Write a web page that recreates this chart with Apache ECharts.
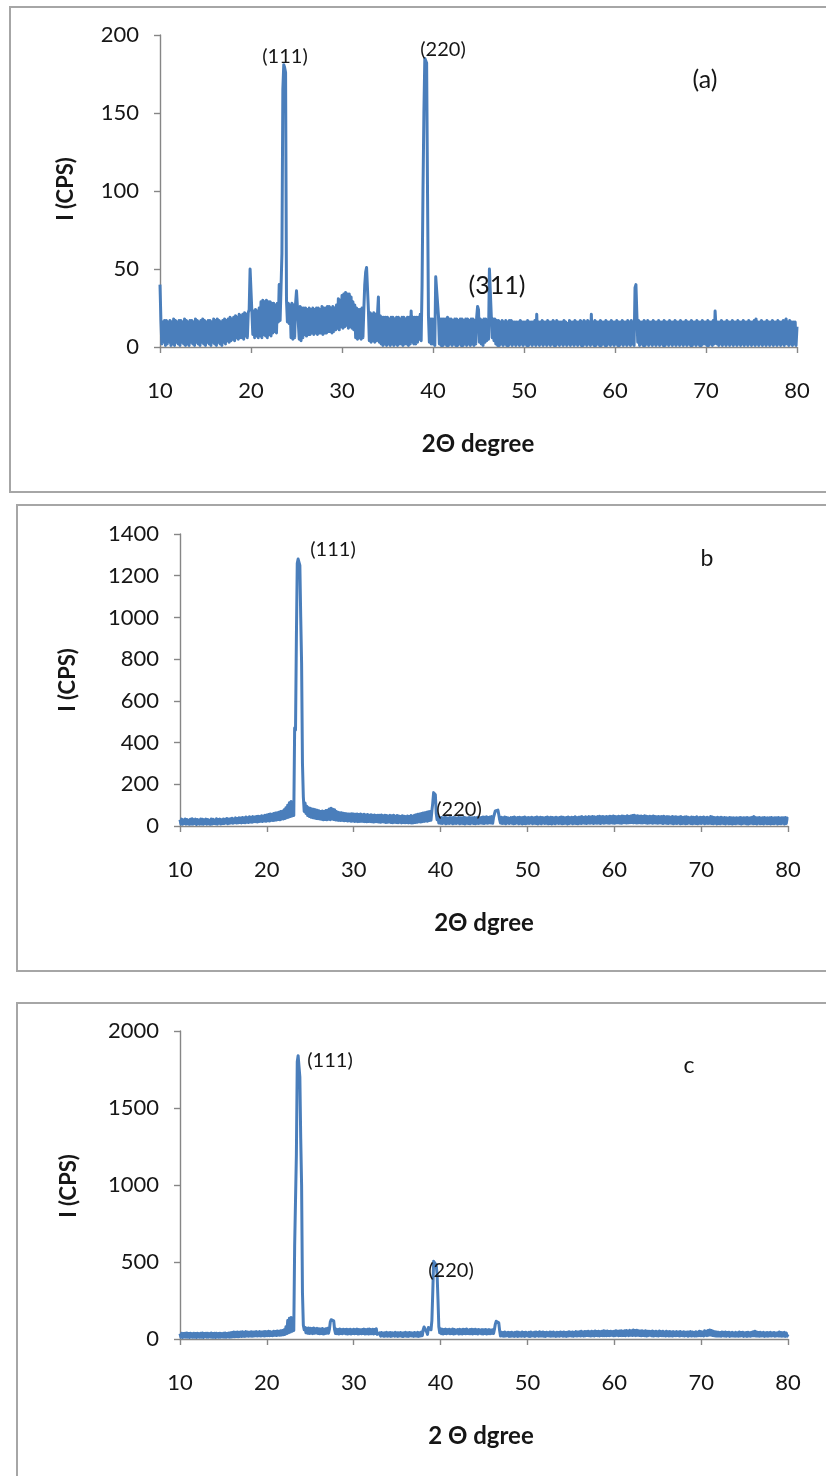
<!DOCTYPE html>
<html>
<head>
<meta charset="utf-8">
<title>XRD patterns</title>
<script src="https://cdn.jsdelivr.net/npm/echarts@6/dist/echarts.min.js"></script>
<style>
  html, body { margin: 0; padding: 0; background: #ffffff; }
  #chart { width: 826px; height: 1476px; }
</style>
</head>
<body>
<div id="chart"></div>
<script>
// Scan grid: 2θ from 10° to 80° in 0.1° steps (701 samples per pattern)
const scanStart = 10;
const scanStep = 0.1;

// Pattern (a) intensities (CPS), one row per degree
const intensityA = [
  40, 17, 2, 16, 3, 17, 1, 17, 2, 16,
  3, 17, 1, 16, 2, 18, 1, 17, 3, 16,
  2, 17, 1, 17, 3, 16, 2, 18, 1, 17,
  2, 16, 1, 17, 3, 17, 2, 16, 1, 18,
  3, 17, 2, 16, 1, 17, 3, 18, 2, 17,
  1, 16, 3, 17, 2, 17, 1, 16, 3, 18,
  2, 17, 1, 18, 3, 17, 2, 16, 1, 17,
  3, 18, 2, 17, 4, 18, 3, 19, 4, 18,
  5, 19, 4, 20, 6, 19, 5, 21, 6, 20,
  6, 21, 5, 22, 7, 21, 6, 22, 24, 50,
  51, 49, 8, 23, 6, 24, 7, 23, 6, 25,
  7, 29, 6, 30, 8, 29, 7, 30, 6, 29,
  8, 29, 7, 28, 9, 28, 10, 27, 9, 28,
  16, 40, 17, 38, 60, 165, 181, 179, 176, 30,
  16, 28, 15, 27, 6, 28, 5, 27, 6, 28,
  36, 37, 35, 5, 26, 4, 25, 6, 25, 8,
  25, 7, 24, 8, 25, 8, 24, 9, 25, 8,
  24, 9, 25, 8, 25, 9, 24, 9, 26, 8,
  25, 9, 25, 9, 26, 10, 26, 10, 25, 9,
  26, 10, 25, 11, 27, 12, 31, 11, 30, 13,
  33, 12, 34, 13, 35, 14, 34, 12, 34, 13,
  32, 12, 29, 11, 27, 6, 25, 5, 24, 6,
  24, 5, 25, 6, 24, 40, 48, 51, 50, 24,
  4, 22, 3, 21, 4, 22, 3, 21, 4, 21,
  32, 3, 20, 2, 19, 1, 19, 2, 19, 1,
  19, 2, 18, 1, 19, 2, 19, 1, 18, 2,
  19, 1, 19, 2, 18, 2, 19, 1, 19, 2,
  18, 2, 19, 1, 19, 2, 23, 3, 19, 2,
  19, 2, 19, 3, 19, 5, 21, 4, 40, 100,
  150, 185, 184, 182, 98, 20, 3, 18, 2, 18,
  2, 18, 1, 45, 44, 45, 20, 2, 18, 1,
  18, 1, 18, 2, 18, 1, 19, 1, 18, 2,
  18, 1, 17, 2, 18, 1, 18, 1, 17, 2,
  18, 1, 18, 1, 17, 2, 18, 1, 18, 2,
  17, 1, 18, 2, 18, 1, 17, 2, 19, 26,
  24, 3, 18, 2, 17, 1, 18, 3, 18, 4,
  17, 5, 50, 51, 50, 6, 18, 4, 18, 2,
  17, 1, 17, 1, 16, 2, 17, 1, 16, 2,
  17, 1, 16, 1, 17, 2, 17, 1, 16, 2,
  16, 1, 16, 2, 16, 1, 17, 2, 16, 1,
  16, 2, 16, 1, 17, 1, 16, 2, 16, 1,
  16, 2, 17, 1, 21, 2, 16, 1, 16, 2,
  17, 1, 16, 2, 16, 1, 17, 2, 16, 1,
  16, 2, 17, 1, 16, 1, 17, 2, 16, 1,
  16, 2, 16, 1, 17, 2, 16, 1, 15, 2,
  17, 1, 16, 2, 16, 1, 17, 2, 16, 1,
  16, 2, 17, 1, 16, 1, 17, 2, 16, 1,
  17, 2, 16, 1, 21, 2, 16, 1, 17, 1,
  16, 2, 16, 1, 17, 1, 16, 2, 16, 1,
  17, 1, 16, 2, 16, 1, 17, 2, 16, 1,
  16, 2, 17, 1, 16, 1, 16, 2, 17, 1,
  16, 2, 16, 1, 17, 2, 16, 1, 17, 2,
  16, 1, 38, 40, 39, 3, 17, 1, 16, 2,
  16, 1, 17, 1, 16, 2, 17, 1, 16, 2,
  16, 1, 17, 2, 16, 1, 16, 2, 17, 1,
  16, 2, 16, 1, 17, 1, 16, 2, 16, 1,
  17, 2, 16, 1, 16, 2, 17, 1, 16, 2,
  16, 1, 17, 2, 16, 1, 16, 2, 17, 1,
  16, 2, 16, 1, 17, 1, 16, 2, 16, 1,
  17, 2, 16, 1, 16, 1, 17, 2, 16, 2,
  16, 1, 17, 1, 16, 2, 16, 1, 17, 2,
  23, 22, 2, 16, 1, 16, 2, 17, 1, 16,
  2, 16, 1, 17, 2, 16, 1, 16, 2, 17,
  1, 16, 2, 16, 1, 17, 2, 16, 1, 16,
  2, 17, 1, 16, 2, 16, 1, 17, 2, 16,
  1, 16, 2, 17, 1, 18, 2, 16, 1, 16,
  2, 17, 1, 16, 2, 16, 1, 17, 2, 16,
  1, 16, 2, 17, 1, 16, 2, 16, 1, 17,
  2, 16, 1, 16, 2, 17, 1, 16, 18, 2,
  16, 1, 17, 2, 16, 1, 16, 2, 16, 1,
  13
];

// Pattern (b) intensities (CPS)
const intensityB = [
  30, 10, 33, 8, 29, 12, 34, 9, 31, 11,
  28, 8, 32, 10, 35, 9, 30, 12, 33, 7,
  31, 11, 29, 9, 34, 10, 32, 8, 30, 12,
  33, 9, 31, 11, 28, 8, 34, 10, 32, 12,
  29, 11, 35, 9, 31, 13, 33, 10, 30, 12,
  34, 12, 32, 14, 36, 11, 33, 13, 35, 15,
  37, 13, 34, 16, 39, 14, 36, 15, 40, 17,
  38, 15, 41, 17, 39, 16, 43, 18, 40, 17,
  44, 19, 42, 18, 45, 20, 43, 21, 46, 19,
  47, 21, 45, 23, 49, 22, 48, 24, 51, 23,
  53, 25, 55, 24, 57, 27, 56, 26, 60, 28,
  62, 29, 64, 31, 66, 30, 69, 33, 71, 34,
  78, 36, 88, 40, 100, 42, 112, 45, 118, 48,
  110, 50, 470, 460, 900, 1260, 1280, 1275, 1250, 1000,
  780, 300, 140, 70, 110, 60, 95, 50, 88, 45,
  85, 42, 82, 40, 80, 38, 78, 36, 75, 35,
  73, 34, 70, 32, 72, 30, 70, 31, 74, 30,
  76, 32, 82, 30, 85, 33, 80, 31, 78, 29,
  70, 28, 66, 27, 64, 26, 63, 27, 61, 25,
  60, 26, 59, 24, 58, 25, 57, 23, 59, 24,
  57, 22, 56, 23, 58, 21, 55, 22, 57, 23,
  54, 22, 56, 21, 53, 20, 55, 22, 52, 21,
  54, 20, 51, 19, 53, 21, 50, 20, 52, 19,
  51, 18, 53, 20, 49, 19, 52, 17, 50, 18,
  48, 19, 51, 17, 49, 16, 52, 18, 47, 17,
  50, 16, 48, 18, 46, 15, 49, 17, 47, 16,
  45, 17, 48, 15, 46, 16, 50, 14, 47, 16,
  52, 17, 54, 18, 56, 20, 58, 19, 60, 21,
  62, 22, 64, 24, 66, 23, 68, 26, 70, 28,
  72, 110, 160, 165, 150, 60, 30, 42, 14, 40,
  13, 41, 12, 39, 14, 42, 11, 40, 13, 38,
  12, 41, 14, 39, 11, 42, 13, 40, 12, 38,
  14, 41, 11, 40, 13, 39, 12, 42, 10, 40,
  13, 38, 12, 41, 11, 40, 14, 39, 12, 41,
  11, 40, 13, 42, 12, 39, 14, 41, 13, 43,
  12, 42, 14, 44, 13, 41, 15, 43, 14, 45,
  13, 42, 50, 72, 80, 78, 76, 55, 30, 14,
  42, 12, 40, 13, 43, 11, 41, 14, 39, 12,
  10, 40, 13, 41, 11, 43, 12, 39, 14, 41,
  11, 42, 13, 40, 10, 41, 12, 43, 11, 39,
  13, 41, 12, 40, 14, 42, 11, 39, 13, 41,
  12, 43, 10, 40, 13, 42, 11, 41, 14, 39,
  12, 41, 13, 43, 11, 40, 12, 42, 10, 41,
  13, 40, 11, 42, 14, 39, 12, 41, 13, 43,
  11, 42, 12, 40, 13, 41, 10, 43, 12, 40,
  14, 42, 11, 41, 13, 44, 12, 40, 11, 42,
  13, 43, 12, 45, 14, 41, 13, 44, 12, 42,
  14, 45, 13, 43, 15, 46, 12, 44, 14, 42,
  13, 45, 14, 47, 12, 44, 15, 46, 13, 43,
  15, 46, 14, 44, 13, 47, 15, 45, 14, 48,
  13, 46, 15, 44, 16, 47, 14, 45, 13, 48,
  15, 47, 16, 45, 14, 49, 15, 46, 16, 48,
  17, 50, 15, 52, 16, 48, 14, 49, 16, 47,
  15, 48, 14, 46, 16, 49, 15, 47, 13, 45,
  14, 47, 16, 45, 13, 48, 15, 46, 14, 44,
  13, 46, 15, 44, 14, 45, 12, 47, 14, 43,
  13, 45, 12, 44, 14, 42, 13, 46, 11, 43,
  13, 44, 12, 42, 14, 43, 11, 45, 12, 41,
  13, 43, 11, 44, 12, 42, 14, 40, 12, 43,
  11, 42, 13, 41, 12, 44, 11, 40, 13, 42,
  12, 41, 14, 43, 11, 40, 13, 42, 12, 39,
  13, 46, 12, 43, 11, 41, 13, 40, 10, 42,
  12, 40, 11, 42, 13, 39, 12, 41, 10, 40,
  13, 38, 11, 41, 12, 39, 10, 40, 12, 38,
  11, 40, 13, 38, 12, 41, 10, 39, 12, 40,
  13, 39, 11, 41, 10, 38, 12, 40, 13, 42,
  11, 45, 12, 40, 10, 39, 13, 41, 11, 38,
  12, 40, 10, 41, 13, 38, 11, 39, 12, 40,
  10, 41, 12, 38, 11, 40, 13, 39, 10, 41,
  12, 38, 11, 40, 13, 39, 10, 41, 12, 38,
  36
];

// Pattern (c) intensities (CPS)
const intensityC = [
  35, 12, 38, 10, 36, 13, 37, 11, 39, 12,
  36, 10, 38, 13, 35, 11, 37, 12, 36, 10,
  38, 13, 35, 11, 37, 12, 39, 10, 36, 14,
  37, 11, 38, 12, 35, 13, 39, 11, 36, 12,
  38, 10, 37, 13, 36, 11, 38, 12, 35, 13,
  37, 12, 39, 11, 36, 14, 38, 12, 40, 13,
  42, 15, 45, 14, 43, 16, 46, 15, 44, 17,
  45, 16, 47, 18, 44, 17, 48, 19, 46, 18,
  44, 20, 47, 18, 46, 19, 45, 21, 48, 20,
  46, 21, 48, 19, 45, 22, 47, 20, 49, 21,
  47, 22, 50, 21, 48, 23, 46, 22, 51, 24,
  49, 23, 52, 25, 50, 24, 53, 26, 55, 27,
  60, 30, 80, 35, 120, 40, 135, 45, 140, 50,
  138, 55, 600, 590, 1200, 1800, 1840, 1835, 1700, 1300,
  1000, 300, 90, 60, 75, 40, 70, 38, 72, 36,
  70, 38, 68, 35, 72, 37, 66, 39, 69, 36,
  67, 34, 65, 36, 68, 33, 64, 35, 66, 37,
  70, 38, 62, 110, 125, 128, 122, 118, 60, 36,
  64, 35, 62, 33, 65, 36, 61, 34, 63, 37,
  62, 34, 64, 32, 61, 35, 63, 33, 60, 36,
  63, 34, 61, 36, 64, 33, 62, 35, 60, 34,
  62, 36, 64, 33, 61, 35, 63, 32, 65, 34,
  61, 35, 64, 33, 62, 36, 66, 30, 42, 20,
  40, 18, 42, 20, 39, 17, 41, 19, 43, 18,
  40, 19, 42, 17, 41, 20, 39, 18, 43, 19,
  41, 17, 40, 20, 42, 18, 39, 16, 41, 19,
  43, 18, 40, 17, 42, 20, 41, 19, 39, 17,
  42, 19, 40, 18, 43, 17, 41, 20, 45, 22,
  60, 78, 82, 80, 45, 30, 75, 82, 70, 60,
  120, 300, 505, 510, 505, 480, 420, 260, 80, 40,
  66, 35, 63, 33, 62, 36, 64, 34, 61, 37,
  63, 34, 60, 36, 65, 33, 62, 35, 59, 37,
  61, 32, 64, 35, 60, 33, 63, 36, 62, 34,
  65, 36, 59, 34, 62, 35, 64, 33, 61, 36,
  63, 35, 60, 32, 62, 37, 58, 34, 61, 33,
  60, 36, 62, 33, 59, 35, 61, 34, 58, 36,
  60, 36, 62, 95, 115, 125, 120, 105, 55, 20,
  44, 20, 42, 18, 45, 19, 41, 21, 43, 17,
  42, 18, 44, 20, 40, 17, 43, 19, 45, 16,
  44, 20, 41, 18, 46, 19, 42, 17, 44, 21,
  40, 18, 43, 16, 45, 20, 41, 19, 44, 17,
  46, 21, 42, 18, 47, 19, 43, 20, 45, 18,
  42, 17, 44, 21, 41, 19, 46, 18, 43, 20,
  45, 19, 41, 17, 44, 20, 42, 18, 46, 21,
  43, 18, 45, 20, 42, 17, 44, 19, 47, 21,
  44, 20, 46, 18, 43, 21, 48, 19, 45, 22,
  47, 20, 50, 22, 46, 19, 49, 21, 48, 23,
  50, 21, 47, 19, 51, 22, 48, 20, 52, 23,
  49, 22, 51, 20, 48, 23, 50, 21, 53, 22,
  50, 21, 52, 23, 49, 22, 51, 24, 48, 21,
  51, 22, 53, 24, 50, 21, 52, 23, 54, 22,
  50, 23, 53, 21, 55, 24, 52, 22, 56, 25,
  54, 23, 58, 25, 55, 22, 57, 24, 53, 23,
  52, 21, 54, 23, 51, 22, 53, 20, 50, 22,
  51, 24, 49, 21, 52, 20, 48, 22, 50, 21,
  47, 20, 52, 23, 48, 21, 50, 22, 46, 20,
  50, 22, 47, 19, 49, 21, 46, 20, 48, 22,
  45, 21, 48, 23, 46, 20, 49, 22, 44, 21,
  47, 20, 44, 22, 46, 18, 45, 21, 48, 19,
  46, 21, 43, 19, 47, 20, 44, 22, 50, 21,
  48, 22, 46, 20, 53, 24, 50, 22, 55, 25,
  58, 26, 55, 23, 50, 21, 47, 20, 45, 19,
  44, 20, 42, 18, 46, 21, 43, 19, 45, 18,
  42, 21, 44, 17, 41, 20, 43, 19, 40, 18,
  43, 20, 41, 18, 45, 19, 42, 21, 44, 17,
  40, 19, 42, 17, 44, 20, 41, 18, 43, 21,
  47, 21, 50, 19, 45, 20, 42, 18, 44, 19,
  41, 20, 43, 17, 40, 19, 42, 18, 41, 20,
  43, 19, 40, 21, 42, 18, 39, 20, 41, 19,
  45, 20, 42, 18, 41, 19, 43, 17, 39, 18,
  30
];

// Axis ranges and tick steps for each panel
const xTicks = { min: 10, max: 80, step: 10 };
const yTicksA = { min: 0, max: 200, step: 50 };
const yTicksB = { min: 0, max: 1400, step: 200 };
const yTicksC = { min: 0, max: 2000, step: 500 };

// Text shown on each panel
const panelTags = ['(a)', 'b', 'c'];
const xTitles = ['2\u0398 degree', '2\u0398 dgree', '2 \u0398 dgree'];
const yTitle = 'I (CPS)';

function toPairs(values) {
  return values.map((v, i) => [+(scanStart + i * scanStep).toFixed(1), v]);
}

const LINE = '#4a7ebb';
const AXIS = '#868686';
const TEXT = '#161616';
const FONT = 'Lato, "Open Sans", sans-serif';

const grids = [
  { left: 160, top: 35, width: 637, height: 312 },
  { left: 180, top: 534, width: 608, height: 292 },
  { left: 180, top: 1031, width: 608, height: 308 }
];

function xAxisFor(i) {
  return {
    type: 'value', gridIndex: i,
    min: xTicks.min, max: xTicks.max, interval: xTicks.step,
    axisLine: { show: true, onZero: false, lineStyle: { color: AXIS, width: 1.4 } },
    axisTick: { show: true, inside: false, length: 6, lineStyle: { color: AXIS, width: 1.4 } },
    splitLine: { show: false },
    axisLabel: { color: TEXT, fontFamily: FONT, fontSize: 22, margin: 33, formatter: v => String(v) }
  };
}
function yAxisFor(i, t) {
  return {
    type: 'value', gridIndex: i,
    min: t.min, max: t.max, interval: t.step,
    axisLine: { show: true, lineStyle: { color: AXIS, width: 1.4 } },
    axisTick: { show: true, inside: false, length: 6, lineStyle: { color: AXIS, width: 1.4 } },
    splitLine: { show: false },
    axisLabel: { color: TEXT, fontFamily: FONT, fontSize: 22, margin: 21, formatter: v => String(v) }
  };
}
function patternSeries(i, values) {
  return {
    type: 'line', xAxisIndex: i, yAxisIndex: i,
    data: toPairs(values),
    showSymbol: false, symbol: 'none',
    lineStyle: { color: LINE, width: 3, join: 'round' },
    z: 2
  };
}

function label(text, x, y, size, opts) {
  opts = opts || {};
  return {
    type: 'text', x: x, y: y, z: 100, silent: true,
    rotation: opts.rotation || 0,
    style: {
      text: text,
      font: (opts.bold ? 'bold ' : '') + size + 'px ' + FONT,
      fill: TEXT,
      align: 'center',
      verticalAlign: 'middle'
    }
  };
}
function frame(x, y, w, h) {
  return {
    type: 'rect', z: 0, silent: true,
    shape: { x: x, y: y, width: w, height: h },
    style: { fill: 'none', stroke: '#a6a6a6', lineWidth: 2 }
  };
}

const graphics = [
  frame(10, 7, 830, 485),
  frame(17, 505, 830, 466),
  frame(17, 1003, 830, 490),

  // axis titles
  label(xTitles[0], 478, 444, 24, { bold: true }),
  label(xTitles[1], 484, 923, 24, { bold: true }),
  label(xTitles[2], 481, 1436, 24, { bold: true }),
  label(yTitle, 66, 189, 22, { bold: true, rotation: Math.PI / 2 }),
  label(yTitle, 68, 680, 22, { bold: true, rotation: Math.PI / 2 }),
  label(yTitle, 69, 1186, 22, { bold: true, rotation: Math.PI / 2 }),

  // panel tags
  label(panelTags[0], 705, 80, 25),
  label(panelTags[1], 707, 559, 23),
  label(panelTags[2], 689, 1066, 23),

  // reflection indices
  label('(111)', 285, 57, 20),
  label('(220)', 443, 50, 20),
  label('(311)', 497, 286, 25),
  label('(111)', 333, 550, 20),
  label('(220)', 459, 810, 20),
  label('(111)', 330, 1061, 20),
  label('(220)', 451, 1271, 20)
];

const option = {
  backgroundColor: '#ffffff',
  animation: false,
  grid: grids.map(g => Object.assign({ containLabel: false }, g)),
  xAxis: [xAxisFor(0), xAxisFor(1), xAxisFor(2)],
  yAxis: [yAxisFor(0, yTicksA), yAxisFor(1, yTicksB), yAxisFor(2, yTicksC)],
  series: [
    patternSeries(0, intensityA),
    patternSeries(1, intensityB),
    patternSeries(2, intensityC)
  ],
  graphic: graphics
};

const chart = echarts.init(document.getElementById('chart'), null, { renderer: 'canvas' });
chart.setOption(option);
</script>
</body>
</html>
